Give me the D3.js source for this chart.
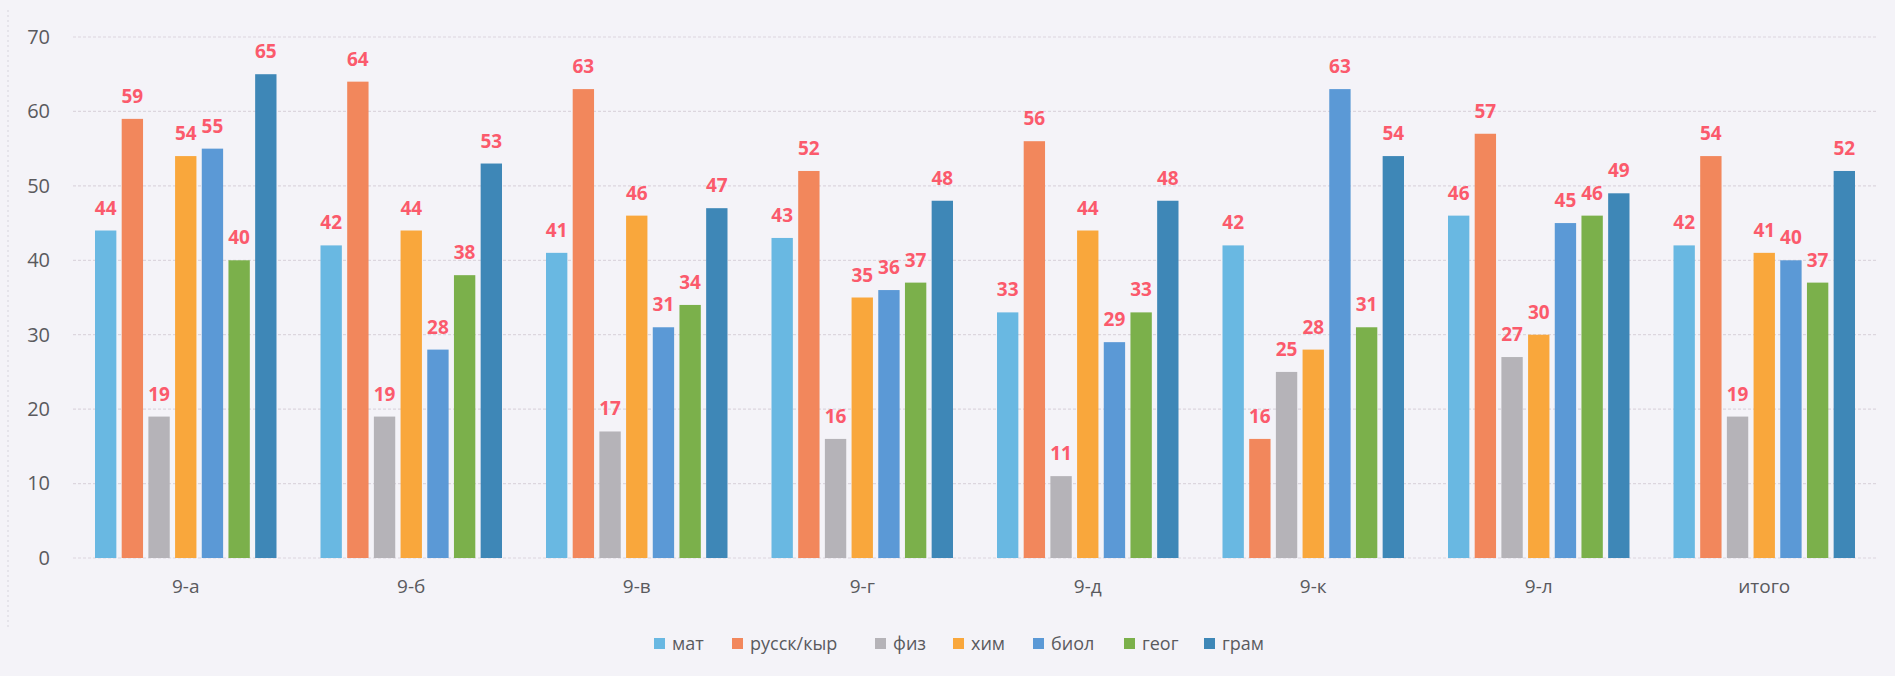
<!DOCTYPE html>
<html>
<head>
<meta charset="utf-8">
<script src="https://cdn.jsdelivr.net/npm/d3@7"></script>
<style>
  body { margin: 0; background: #f4f3f8; }
  svg { display: block; font-family: "Open Sans", "DejaVu Sans", sans-serif; }
</style>
</head>
<body>
<script>
// classes and subjects
var classes = ["9-а", "9-б", "9-в", "9-г", "9-д", "9-к", "9-л", "итого"];
var subjects = ["мат", "русск/кыр", "физ", "хим", "биол", "геог", "грам"];

// one array per subject, in class order
var mat    = [44, 42, 41, 43, 33, 42, 46, 42];
var russ   = [59, 64, 63, 52, 56, 16, 57, 54];
var fiz    = [19, 19, 17, 16, 11, 25, 27, 19];
var him    = [54, 44, 46, 35, 44, 28, 30, 41];
var biol   = [55, 28, 31, 36, 29, 63, 45, 40];
var geog   = [40, 38, 34, 37, 33, 31, 46, 37];
var gram   = [65, 53, 47, 48, 48, 54, 49, 52];

var yTicks = [0, 10, 20, 30, 40, 50, 60, 70];

var colors = ["#69b8e2", "#f2875c", "#b5b3b8", "#f9a73c", "#5b99d6", "#7bb04b", "#3e87b7"];

var seriesValues = [mat, russ, fiz, him, biol, geog, gram];

var svgWidth = 1895;
var svgHeight = 676;

var margin = { top: 37, right: 18, bottom: 118, left: 73 };
var width = svgWidth - margin.left - margin.right;
var height = svgHeight - margin.top - margin.bottom;

var svg = d3.select("body")
            .append("svg")
            .attr("width", svgWidth)
            .attr("height", svgHeight);

// faint left border of the scanned frame
svg.append("line")
    .attr("x1", 8).attr("x2", 8)
    .attr("y1", 10).attr("y2", 627)
    .attr("stroke", "#d6d4dc")
    .attr("stroke-dasharray", "2,3");

var chartGroup = svg.append("g")
                    .attr("transform", `translate(${margin.left}, ${margin.top})`);

var x0 = d3.scaleBand()
           .domain(classes)
           .range([0, width])
           .paddingInner(0)
           .paddingOuter(0);

var x1 = d3.scaleBand()
           .domain(subjects)
           .range([22, x0.bandwidth() - 22])
           .paddingInner(0.2)
           .paddingOuter(0);

var yScale = d3.scaleLinear()
               .domain([0, 70])
               .range([height, 0]);

// gridlines
chartGroup.append("g")
    .selectAll("line")
    .data(yTicks)
    .enter()
    .append("line")
    .attr("x1", 0)
    .attr("x2", width)
    .attr("y1", d => yScale(d))
    .attr("y2", d => yScale(d))
    .attr("stroke", "#dcd6de")
    .attr("stroke-width", 1.2)
    .attr("stroke-dasharray", "3,2");

// y axis labels
var leftAxis = d3.axisLeft(yScale).tickValues(yTicks).tickSize(0).tickPadding(23);
var yAxis = chartGroup.append("g").call(leftAxis);
yAxis.select(".domain").remove();
yAxis.selectAll("text")
    .attr("font-size", 20)
    .attr("fill", "#5a5a5e")
    .attr("font-family", "Open Sans, sans-serif");

// x axis labels
var bottomAxis = d3.axisBottom(x0).tickSize(0).tickPadding(22);
var xAxis = chartGroup.append("g")
    .attr("transform", `translate(0, ${height})`)
    .call(bottomAxis);
xAxis.select(".domain").remove();
xAxis.selectAll("text")
    .attr("font-size", 19)
    .attr("fill", "#5a5a5e")
    .attr("font-family", "Open Sans, sans-serif");

// bars
var groups = chartGroup.selectAll(".grp")
    .data(classes)
    .enter()
    .append("g")
    .attr("class", "grp")
    .attr("transform", d => `translate(${x0(d)}, 0)`);

groups.selectAll("rect")
    .data((c, i) => subjects.map((s, j) => ({ s: s, v: seriesValues[j][i], j: j })))
    .enter()
    .append("rect")
    .attr("x", d => x1(d.s))
    .attr("y", d => yScale(d.v))
    .attr("width", x1.bandwidth())
    .attr("height", d => height - yScale(d.v))
    .attr("fill", d => colors[d.j]);

groups.selectAll("text.val")
    .data((c, i) => subjects.map((s, j) => ({ s: s, v: seriesValues[j][i], j: j })))
    .enter()
    .append("text")
    .attr("class", "val")
    .attr("x", d => x1(d.s) + x1.bandwidth() / 2)
    .attr("y", d => yScale(d.v) - 16)
    .attr("text-anchor", "middle")
    .attr("font-size", 19)
    .attr("font-weight", "bold")
    .attr("fill", "#fb5a6c")
    .text(d => d.v);

// legend
var legendX = [654, 732, 875, 953, 1033, 1124, 1204];
var legend = svg.append("g").attr("transform", "translate(0, 643)");
var items = legend.selectAll("g")
    .data(subjects)
    .enter()
    .append("g")
    .attr("transform", (d, i) => `translate(${legendX[i]}, 0)`);

items.append("rect")
    .attr("x", 0).attr("y", -5)
    .attr("width", 11).attr("height", 11)
    .attr("fill", (d, i) => colors[i]);

items.append("text")
    .attr("x", 18)
    .attr("y", 7)
    .attr("font-size", 18)
    .attr("fill", "#5a5a5e")
    .text(d => d);
</script>
</body>
</html>
